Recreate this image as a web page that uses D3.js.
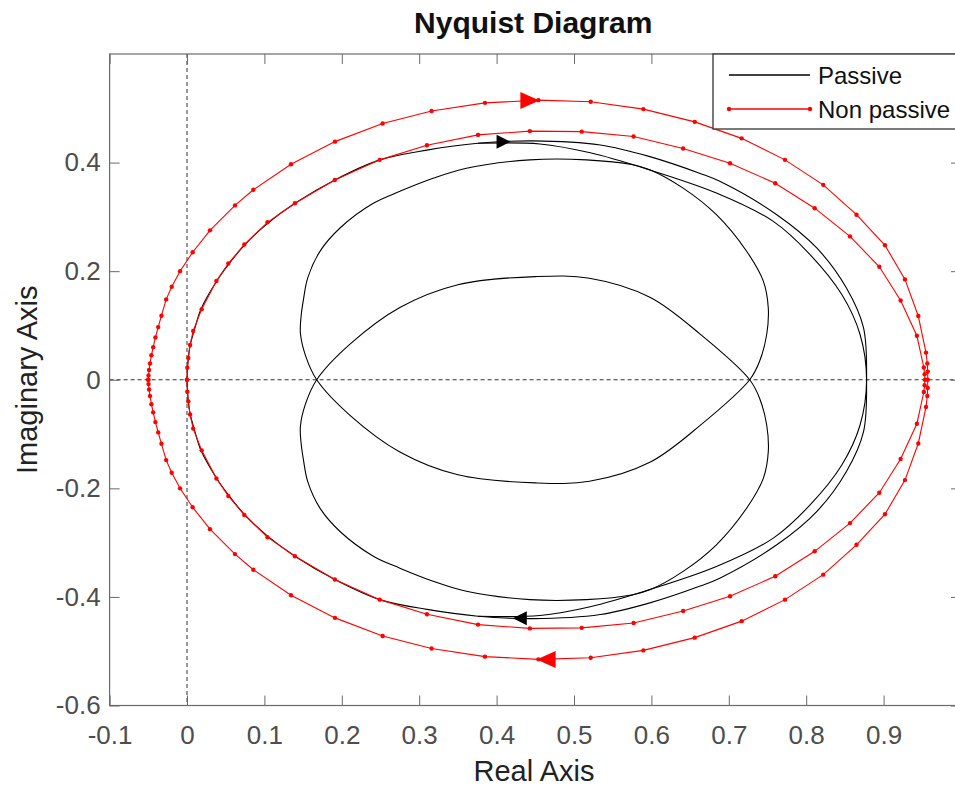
<!DOCTYPE html>
<html>
<head>
<meta charset="utf-8">
<script src="https://cdn.jsdelivr.net/npm/d3@7/dist/d3.min.js"></script>
<style>
  html, body { margin: 0; padding: 0; background: #fff; }
  svg { display: block; font-family: "Liberation Sans", Arial, Helvetica, sans-serif; }
</style>
</head>
<body>
<svg id="chart" width="955" height="787"></svg>
<script>
// Nyquist diagram: passive vs. non passive systems.
// Each symmetric loop is stored as its upper half (Im >= 0), ordered by Re;
// the lower half is the complex conjugate of the same frequency points.

const xTicks = [-0.1, 0, 0.1, 0.2, 0.3, 0.4, 0.5, 0.6, 0.7, 0.8, 0.9];
const yTicks = [-0.6, -0.4, -0.2, 0, 0.2, 0.4];
const seriesNames = ["Passive", "Non passive"];

// Passive: main loop, upper half [Re, Im]
const passiveMain = [
  [0.000, 0.000], [0.0017, 0.040], [0.004, 0.063], [0.010, 0.094], [0.018, 0.130],
  [0.038, 0.181], [0.0534, 0.212], [0.0749, 0.249], [0.105, 0.289], [0.1395, 0.325],
  [0.191, 0.368], [0.249, 0.405], [0.310, 0.423], [0.376, 0.4355], [0.447, 0.440],
  [0.534, 0.4325], [0.598, 0.411], [0.663, 0.380], [0.689, 0.365], [0.762, 0.304],
  [0.8136, 0.2428], [0.852, 0.169], [0.874, 0.096], [0.878, 0.000]
];

// Passive: second branch leaving the main loop near the top, upper half
const passiveSide = [
  [0.376, 0.4355], [0.456, 0.4343], [0.521, 0.418], [0.590, 0.390], [0.684, 0.344],
  [0.7575, 0.2917], [0.805, 0.2306], [0.846, 0.157], [0.8695, 0.0838], [0.878, 0.000]
];

// Passive: inner closed loop (its conjugate forms the second inner loop)
const passiveInner = [
  [0.1676, 0.000], [0.1530, 0.045], [0.1465, 0.086], [0.1475, 0.118], [0.1505, 0.148],
  [0.1560, 0.1877], [0.1720, 0.2370], [0.1977, 0.2795], [0.2407, 0.3250], [0.2750, 0.3470],
  [0.3180, 0.3710], [0.3610, 0.3896], [0.4430, 0.4050], [0.5160, 0.4050], [0.5760, 0.3960],
  [0.5980, 0.3870], [0.6410, 0.3530], [0.6840, 0.3040], [0.7230, 0.2367], [0.7446, 0.1817],
  [0.7510, 0.1327], [0.7490, 0.0838], [0.7400, 0.0349], [0.7270, 0.000],
  [0.6630, -0.084], [0.5980, -0.152], [0.5200, -0.187], [0.4500, -0.190], [0.3500, -0.175],
  [0.2750, -0.133], [0.2106, -0.0655]
];

// Non passive: outer loop, upper half
const nonPassiveOuter = [
  [-0.050, 0.000], [-0.0497, 0.008], [-0.0490, 0.018], [-0.0478, 0.030], [-0.0460, 0.045],
  [-0.0437, 0.060], [-0.0408, 0.078], [-0.0372, 0.097], [-0.0330, 0.118], [-0.0269, 0.148],
  [-0.0197, 0.1712], [-0.0090, 0.2000], [0.0073, 0.2349], [0.0297, 0.2752], [0.0620, 0.3211],
  [0.0857, 0.3499], [0.1344, 0.3969], [0.1912, 0.4386], [0.2528, 0.4721], [0.3160, 0.4950],
  [0.3850, 0.5100], [0.4540, 0.5150], [0.5216, 0.5120], [0.5896, 0.4985], [0.6560, 0.4750],
  [0.7166, 0.4446], [0.7726, 0.4050], [0.8220, 0.3590], [0.8650, 0.3040], [0.9018, 0.2477],
  [0.9276, 0.1848], [0.9448, 0.1174], [0.9548, 0.0500], [0.9565, 0.030], [0.9570, 0.015],
  [0.9570, 0.000]
];

// Non passive: inner loop, upper half
const nonPassiveInner = [
  [0.000, 0.000], [0.0004, 0.022], [0.0017, 0.040], [0.004, 0.064], [0.008, 0.090],
  [0.019, 0.130], [0.038, 0.182], [0.0534, 0.214], [0.074, 0.249], [0.104, 0.290],
  [0.1395, 0.325], [0.191, 0.368], [0.249, 0.405], [0.310, 0.432], [0.376, 0.451],
  [0.443, 0.458], [0.510, 0.457], [0.577, 0.448], [0.641, 0.426], [0.7016, 0.3988],
  [0.760, 0.362], [0.811, 0.316], [0.8566, 0.264], [0.8945, 0.208], [0.922, 0.146],
  [0.943, 0.081], [0.952, 0.0226], [0.953, 0.010], [0.9535, 0.000]
];

// Direction arrows [Re, Im, direction (+1 = increasing Re)]
const passiveArrows = [[0.409, 0.4385, 1], [0.430, -0.4395, -1]];
const nonPassiveArrows = [[0.443, 0.5145, 1], [0.464, -0.5155, -1]];

const conj = pts => pts.map(([re, im]) => [re, -im]);
// Upper half followed by its conjugate traversed backwards
const withConjugate = upper => upper.concat(conj(upper).reverse().slice(1));

const svg = d3.select("#chart");
const W = 955, H = 787;
const x = d3.scaleLinear().domain([-0.1, 1.0]).range([109.6, 961.0]);
const y = d3.scaleLinear().domain([-0.6, 0.6]).range([705.5, 54]);

svg.append("rect").attr("width", W).attr("height", H).attr("fill", "#fff");

const fmt = d => String(Math.round(d * 10) / 10);
const axisColor = "#6a6a6a";
const tickText = "#4d4d4d";

// zero lines
svg.append("line")
  .attr("x1", x(0)).attr("x2", x(0)).attr("y1", y.range()[1]).attr("y2", y.range()[0])
  .attr("stroke", "#333").attr("stroke-width", 1).attr("stroke-dasharray", "4,3");
svg.append("line")
  .attr("x1", x.range()[0]).attr("x2", x.range()[1]).attr("y1", y(0)).attr("y2", y(0))
  .attr("stroke", "#333").attr("stroke-width", 1).attr("stroke-dasharray", "4,3");

// axes
const gB = svg.append("g").attr("transform", `translate(0,${y.range()[0]})`)
  .call(d3.axisBottom(x).tickValues(xTicks).tickFormat(fmt).tickSizeInner(-10).tickSizeOuter(0).tickPadding(20));
const gT = svg.append("g").attr("transform", `translate(0,${y.range()[1]})`)
  .call(d3.axisTop(x).tickValues(xTicks).tickFormat("").tickSizeInner(-10).tickSizeOuter(0));
const gL = svg.append("g").attr("transform", `translate(${x.range()[0]},0)`)
  .call(d3.axisLeft(y).tickValues(yTicks).tickFormat(fmt).tickSizeInner(-10).tickSizeOuter(0).tickPadding(9));
const gR = svg.append("g").attr("transform", `translate(${x.range()[1]},0)`)
  .call(d3.axisRight(y).tickValues(yTicks).tickFormat("").tickSizeInner(-10).tickSizeOuter(0));
[gB, gT, gL, gR].forEach(g => {
  g.select(".domain").remove();
  g.selectAll(".tick line").attr("stroke", axisColor).attr("stroke-width", 1);
  g.selectAll(".tick text").attr("fill", tickText).attr("font-size", 26)
    .attr("font-family", "'Liberation Sans', Arial, Helvetica, sans-serif");
});
svg.append("rect")
  .attr("x", x.range()[0]).attr("y", y.range()[1])
  .attr("width", x.range()[1] - x.range()[0]).attr("height", y.range()[0] - y.range()[1])
  .attr("fill", "none").attr("stroke", axisColor).attr("stroke-width", 1.2);

// curves
const smooth = d3.line().x(d => x(d[0])).y(d => y(d[1])).curve(d3.curveCatmullRom);
const smoothClosed = d3.line().x(d => x(d[0])).y(d => y(d[1])).curve(d3.curveCatmullRomClosed);
const straight = d3.line().x(d => x(d[0])).y(d => y(d[1]));

const plot = svg.append("g");
const black = "#000";
const red = "#ff0000";

plot.append("path").attr("d", smooth(withConjugate(passiveMain)))
  .attr("fill", "none").attr("stroke", black).attr("stroke-width", 1.1);
plot.append("path").attr("d", smooth(withConjugate(passiveSide)))
  .attr("fill", "none").attr("stroke", black).attr("stroke-width", 1.1);
plot.append("path").attr("d", smoothClosed(passiveInner))
  .attr("fill", "none").attr("stroke", black).attr("stroke-width", 1.1);
plot.append("path").attr("d", smoothClosed(conj(passiveInner)))
  .attr("fill", "none").attr("stroke", black).attr("stroke-width", 1.1);

const redLoops = [withConjugate(nonPassiveOuter), withConjugate(nonPassiveInner)];
redLoops.forEach(pts => {
  plot.append("path").attr("d", straight(pts))
    .attr("fill", "none").attr("stroke", red).attr("stroke-width", 1.1);
  plot.append("g").selectAll("circle").data(pts).join("circle")
    .attr("cx", d => x(d[0])).attr("cy", d => y(d[1])).attr("r", 2.2).attr("fill", red);
});

// arrow heads
function arrows(data, color, len, half) {
  plot.append("g").selectAll("path").data(data).join("path")
    .attr("d", ([re, im, dir]) => {
      const cx = x(re), cy = y(im);
      const tip = cx + dir * len / 2, base = cx - dir * len / 2;
      return `M${tip},${cy}L${base},${cy - half}L${base},${cy + half}Z`;
    })
    .attr("fill", color);
}
arrows(passiveArrows, black, 14, 7);
arrows(nonPassiveArrows, red, 19, 8.5);

// title and axis labels
svg.append("text").attr("x", (x.range()[0] + x.range()[1]) / 2 - 2).attr("y", 33)
  .attr("text-anchor", "middle").attr("font-size", 30).attr("font-weight", "bold")
  .attr("fill", "#111").text("Nyquist Diagram");
svg.append("text").attr("x", 534).attr("y", 781)
  .attr("text-anchor", "middle").attr("font-size", 29).attr("fill", "#222").text("Real Axis");
svg.append("text").attr("transform", `translate(37,${y(0)}) rotate(-90)`)
  .attr("text-anchor", "middle").attr("font-size", 29).attr("fill", "#222").text("Imaginary Axis");

// legend
const lg = svg.append("g");
lg.append("rect").attr("x", 713).attr("y", 54).attr("width", 250).attr("height", 75)
  .attr("fill", "#fff").attr("stroke", "#333").attr("stroke-width", 1.3);
const entries = [
  { name: seriesNames[0], color: black, marker: false, cy: 75 },
  { name: seriesNames[1], color: red, marker: true, cy: 109 }
];
entries.forEach(e => {
  lg.append("line").attr("x1", 729).attr("x2", 810).attr("y1", e.cy).attr("y2", e.cy)
    .attr("stroke", e.color).attr("stroke-width", 1.3);
  if (e.marker) {
    [729, 810].forEach(px => lg.append("circle").attr("cx", px).attr("cy", e.cy).attr("r", 2.2).attr("fill", e.color));
  }
  lg.append("text").attr("x", 818).attr("y", e.cy + 9).attr("font-size", 24)
    .attr("fill", "#111").text(e.name);
});
</script>
</body>
</html>
